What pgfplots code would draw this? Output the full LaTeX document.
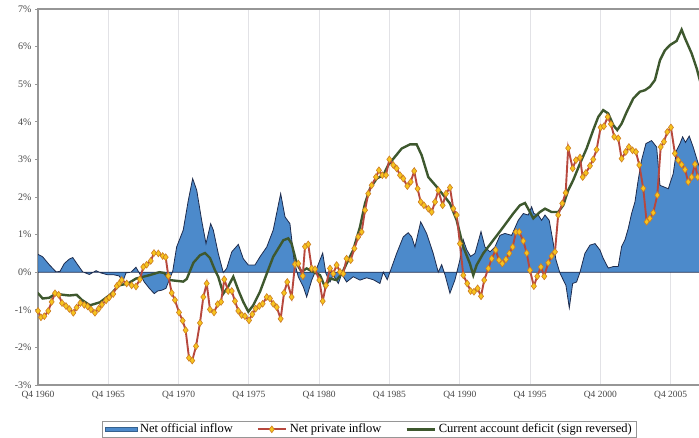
\documentclass[border=0pt]{standalone}
\usepackage{fontspec}
\setmainfont{Liberation Serif}
\usepackage{pgfplots}
\pgfplotsset{compat=1.18}

\definecolor{official}{RGB}{76,138,203}
\definecolor{officialedge}{RGB}{30,44,78}
\definecolor{cadgreen}{RGB}{62,88,46}
\definecolor{privred}{RGB}{183,72,62}
\definecolor{markyellow}{RGB}{246,196,30}
\definecolor{markedge}{RGB}{205,125,35}
\definecolor{gridgray}{RGB}{226,226,230}
\definecolor{axisgray}{RGB}{150,150,150}
\definecolor{labelgray}{RGB}{70,70,70}

\begin{document}
\begin{tikzpicture}
\begin{axis}[
  at={(38pt,-385pt)}, anchor=south west,
  scale only axis,
  width=665pt, height=376pt,
  xmin=1960.75, xmax=2008.05,
  ymin=-3, ymax=7,
  axis line style={draw=axisgray, line width=1.1pt},
  xtick={1960.75,1965.75,1970.75,1975.75,1980.75,1985.75,1990.75,1995.75,2000.75,2005.75},
  xticklabels={Q4 1960,Q4 1965,Q4 1970,Q4 1975,Q4 1980,Q4 1985,Q4 1990,Q4 1995,Q4 2000,Q4 2005},
  ytick={-3,-2,-1,0,1,2,3,4,5,6,7},
  yticklabels={-3\%,-2\%,-1\%,0\%,1\%,2\%,3\%,4\%,5\%,6\%,7\%},
  xmajorgrids,
  grid style={draw=gridgray, line width=0.8pt},
  xtick style={draw=none},
  ytick style={draw=axisgray, line width=0.6pt},
  tick align=outside, major tick length=3pt,
  xticklabel style={font=\fontsize{9.5}{11}\selectfont, text=labelgray},
  yticklabel style={font=\fontsize{10}{11}\selectfont, text=labelgray},
  legend columns=3,
  legend style={at={(0.498,-0.097)}, anchor=north, draw=axisgray,
    font=\fontsize{12.5}{13.5}\selectfont, text=black,
    /tikz/every even column/.append style={column sep=22pt},
    /tikz/every odd column/.append style={column sep=1pt},
    inner xsep=2pt, inner ysep=0.5pt},
  legend image code/.code={%
    \draw[mark repeat=2,mark phase=2,#1] plot coordinates {(0pt,0pt) (14pt,0pt) (28pt,0pt)};},
]

\addplot[fill=official, draw=officialedge, line width=0.8pt,
  legend image code/.code={\draw[fill=official, draw=official!70!black, line width=0.5pt] (0pt,-2pt) rectangle (32pt,2pt);}]
coordinates {
(1960.73,0.48)(1961.08,0.41)(1961.55,0.2)(1962.03,0.01)(1962.31,0.02)(1962.62,0.23)
(1962.98,0.35)(1963.22,0.39)(1963.57,0.2)(1963.93,0.01)(1964.4,-0.06)(1964.88,0.04)
(1965.23,-0.02)(1965.71,-0.07)(1966.16,-0.07)(1966.53,-0.1)(1966.77,-0.26)(1967.01,-0.02)
(1967.36,0.0)(1967.72,0.13)(1967.95,-0.02)(1968.31,-0.26)(1968.67,-0.43)(1969.02,-0.57)
(1969.26,-0.5)(1969.55,-0.48)(1969.85,-0.43)(1970.09,-0.2)(1970.33,0.02)(1970.61,0.67)
(1971.08,1.12)(1971.44,1.91)(1971.75,2.49)(1972.04,2.18)(1972.39,1.38)(1972.7,0.76)
(1973.03,1.29)(1973.22,1.12)(1973.57,0.5)(1973.93,-0.01)(1974.17,0.1)(1974.53,0.54)
(1975.0,0.74)(1975.35,0.36)(1975.71,0.19)(1976.18,0.19)(1976.54,0.41)(1977.02,0.67)
(1977.48,1.12)(1978.01,2.09)(1978.32,1.47)(1978.67,1.29)(1978.96,0.32)(1979.26,-0.12)
(1979.62,-0.39)(1979.86,-0.66)(1980.22,-0.21)(1980.57,0.1)(1981.0,0.51)(1981.23,-0.04)
(1981.52,-0.26)(1981.75,-0.07)(1982.11,-0.3)(1982.35,-0.05)(1982.7,-0.26)(1983.17,-0.12)
(1983.65,-0.21)(1984.13,-0.15)(1984.6,-0.2)(1985.07,-0.3)(1985.31,0.0)(1985.59,-0.2)
(1985.78,0.0)(1986.26,0.5)(1986.73,0.94)(1987.08,1.05)(1987.33,0.94)(1987.56,0.67)
(1987.97,1.34)(1988.39,1.03)(1988.86,0.5)(1989.22,0.0)(1989.46,0.2)(1989.7,-0.07)
(1990.05,-0.56)(1990.41,-0.2)(1990.76,0.33)(1991.0,0.86)(1991.24,0.6)(1991.52,0.42)
(1991.83,0.5)(1992.26,1.08)(1992.54,0.67)(1992.9,0.54)(1993.25,0.67)(1993.61,0.98)
(1993.96,1.03)(1994.44,0.98)(1994.91,1.38)(1995.27,1.56)(1995.62,1.52)(1995.86,1.74)
(1996.02,1.56)(1996.33,1.52)(1996.57,1.38)(1996.81,1.52)(1997.11,1.38)(1997.36,0.86)
(1997.59,0.33)(1997.88,-0.03)(1998.3,-0.35)(1998.54,-0.95)(1998.78,-0.3)(1999.06,-0.26)
(1999.3,0.0)(1999.65,0.5)(2000.01,0.72)(2000.37,0.76)(2000.72,0.59)(2000.95,0.37)
(2001.31,0.11)(2001.67,0.15)(2002.02,0.15)(2002.26,0.68)(2002.5,0.86)(2002.73,1.16)
(2002.97,1.56)(2003.21,1.87)(2003.44,2.45)(2003.68,2.98)(2003.99,3.42)(2004.39,3.5)
(2004.75,3.33)(2004.99,2.31)(2005.58,2.22)(2005.93,2.62)(2006.17,3.24)(2006.41,3.42)
(2006.6,3.6)(2006.8,3.45)(2007.07,3.62)(2007.35,3.33)(2007.71,2.89)(2008.0,2.6)
} \closedcycle;
\addlegendentry{Net official inflow}

\addplot[forget plot, draw=cadgreen, line width=2.4pt] coordinates {
(1960.73,-0.55)(1961.08,-0.7)(1961.55,-0.68)(1962.03,-0.57)(1962.51,-0.6)(1962.98,-0.62)
(1963.5,-0.6)(1963.88,-0.74)(1964.45,-0.88)(1965.16,-0.8)(1965.87,-0.6)(1966.53,-0.35)
(1967.15,-0.3)(1967.72,-0.17)(1968.67,-0.08)(1969.38,0.0)(1969.73,-0.02)(1970.14,-0.21)
(1971.08,-0.25)(1971.33,-0.18)(1971.8,0.25)(1972.27,0.45)(1972.63,0.51)(1972.98,0.38)
(1973.34,0.05)(1973.57,-0.12)(1973.93,-0.57)(1974.28,-0.38)(1974.64,-0.12)(1975.0,-0.48)
(1975.35,-0.79)(1975.71,-1.05)(1976.06,-0.88)(1976.54,-0.52)(1977.02,-0.04)(1977.48,0.41)
(1977.84,0.63)(1978.2,0.85)(1978.55,0.9)(1978.79,0.76)(1979.15,0.23)(1979.5,0.01)
(1979.86,0.1)(1980.1,0.05)(1980.81,-0.08)(1981.16,-0.39)(1981.52,-0.17)(1981.99,-0.21)
(1982.35,-0.04)(1982.7,0.23)(1983.17,0.59)(1983.65,1.2)(1984.01,1.83)(1984.36,2.22)
(1984.84,2.49)(1985.31,2.58)(1985.66,2.85)(1986.14,3.07)(1986.62,3.29)(1987.21,3.4)
(1987.68,3.4)(1988.04,3.11)(1988.51,2.53)(1989.11,2.27)(1989.58,2.05)(1990.05,1.83)
(1990.53,1.38)(1991.0,0.67)(1991.47,0.23)(1991.71,-0.08)(1991.95,0.19)(1992.42,0.5)
(1993.13,0.85)(1993.84,1.2)(1994.55,1.56)(1995.03,1.78)(1995.39,1.84)(1995.74,1.6)
(1995.98,1.43)(1996.45,1.6)(1996.81,1.69)(1997.28,1.6)(1997.75,1.6)(1998.11,1.78)
(1998.46,2.18)(1998.82,2.45)(1999.3,2.89)(1999.77,3.29)(2000.24,3.78)(2000.6,4.13)
(2000.95,4.31)(2001.31,4.22)(2001.67,3.91)(2001.95,3.78)(2002.26,3.95)(2002.62,4.26)
(2003.09,4.62)(2003.56,4.8)(2003.92,4.84)(2004.27,4.93)(2004.63,5.11)(2004.99,5.64)
(2005.34,5.9)(2005.7,6.04)(2006.17,6.15)(2006.53,6.45)(2006.77,6.22)(2007.24,5.82)
(2007.6,5.42)(2007.9,5.0)
};

\addplot[draw=privred, line width=1.9pt, mark=diamond*, mark size=3.4pt,
  mark options={fill=markyellow, draw=markedge, line width=0.6pt}] coordinates {
(1960.75,-1.03)(1960.96,-1.2)(1961.2,-1.17)(1961.48,-1.03)(1961.72,-0.79)(1961.96,-0.56)
(1962.22,-0.6)(1962.46,-0.82)(1962.74,-0.9)(1962.98,-0.98)(1963.26,-1.08)(1963.5,-0.94)
(1963.76,-0.82)(1964.04,-0.87)(1964.28,-0.91)(1964.52,-0.99)(1964.8,-1.08)(1965.07,-0.97)
(1965.3,-0.86)(1965.59,-0.75)(1965.82,-0.67)(1966.1,-0.58)(1966.35,-0.37)(1966.53,-0.3)
(1966.7,-0.21)(1967.06,-0.3)(1967.41,-0.35)(1967.72,-0.38)(1968.0,-0.19)(1968.24,0.14)
(1968.48,0.2)(1968.77,0.3)(1969.0,0.51)(1969.31,0.5)(1969.62,0.43)(1969.83,0.4)
(1970.02,-0.1)(1970.26,-0.55)(1970.49,-0.74)(1970.78,-1.07)(1971.04,-1.29)(1971.25,-1.54)
(1971.49,-2.28)(1971.72,-2.35)(1971.99,-1.97)(1972.27,-1.35)(1972.51,-0.66)(1972.75,-0.3)
(1972.98,-0.99)(1973.27,-1.07)(1973.53,-0.85)(1973.77,-0.79)(1974.0,-0.19)(1974.28,-0.5)
(1974.53,-0.5)(1974.76,-0.77)(1975.0,-1.03)(1975.24,-1.14)(1975.47,-1.17)(1975.76,-1.28)
(1975.99,-1.12)(1976.23,-0.97)(1976.49,-0.9)(1976.73,-0.84)(1977.02,-0.66)(1977.25,-0.7)
(1977.48,-0.84)(1977.73,-0.93)(1978.01,-1.24)(1978.25,-0.55)(1978.48,-0.26)(1978.79,-0.66)
(1979.03,0.21)(1979.26,0.23)(1979.58,-0.1)(1979.74,0.68)(1979.97,0.74)(1980.22,0.1)
(1980.45,0.08)(1980.76,-0.21)(1981.0,-0.77)(1981.23,-0.35)(1981.52,0.1)(1981.75,-0.04)
(1981.99,0.19)(1982.23,0.01)(1982.46,-0.04)(1982.7,0.36)(1982.99,0.32)(1983.25,0.63)
(1983.53,0.94)(1983.77,1.07)(1984.01,1.65)(1984.24,2.09)(1984.48,2.31)(1984.79,2.53)
(1985.0,2.71)(1985.24,2.58)(1985.5,2.58)(1985.74,3.0)(1986.02,2.85)(1986.26,2.76)
(1986.5,2.58)(1986.73,2.49)(1987.02,2.29)(1987.26,2.4)(1987.51,2.69)(1987.75,2.22)
(1987.97,1.87)(1988.2,1.78)(1988.51,1.69)(1988.75,1.6)(1988.99,1.87)(1989.22,2.18)
(1989.53,1.78)(1989.77,2.09)(1990.05,2.25)(1990.29,1.69)(1990.53,1.52)(1990.76,0.76)
(1991.0,-0.08)(1991.28,-0.3)(1991.52,-0.5)(1991.76,-0.52)(1992.02,-0.43)(1992.26,-0.64)
(1992.49,-0.21)(1992.78,0.1)(1993.02,0.36)(1993.3,0.59)(1993.54,0.32)(1993.77,0.23)
(1994.03,0.34)(1994.27,0.5)(1994.51,0.67)(1994.75,1.07)(1994.98,1.07)(1995.27,0.83)
(1995.51,0.51)(1995.74,0.05)(1996.02,-0.37)(1996.26,-0.11)(1996.52,0.14)(1996.76,-0.11)
(1997.04,0.25)(1997.28,0.43)(1997.52,0.54)(1997.75,1.52)(1998.04,1.83)(1998.28,2.11)
(1998.46,3.3)(1998.78,2.76)(1999.01,2.98)(1999.3,3.05)(1999.49,2.53)(1999.72,2.64)
(2000.01,2.83)(2000.24,3.0)(2000.48,3.26)(2000.77,3.85)(2001.0,3.88)(2001.27,4.13)
(2001.5,3.94)(2001.74,3.6)(2002.02,3.56)(2002.26,3.02)(2002.55,3.2)(2002.78,3.33)
(2003.04,3.24)(2003.28,3.2)(2003.52,2.85)(2003.8,2.23)(2004.04,1.34)(2004.27,1.43)
(2004.51,1.58)(2004.8,2.05)(2005.04,3.33)(2005.27,3.47)(2005.51,3.73)(2005.77,3.85)
(2006.05,3.16)(2006.29,2.98)(2006.53,2.86)(2006.77,2.73)(2007.0,2.4)(2007.24,2.53)
(2007.48,2.87)(2007.67,2.53)(2007.92,2.7)
};
\addlegendentry{Net private inflow}

\addlegendimage{draw=cadgreen, line width=2.4pt}
\addlegendentry{Current account deficit (sign reversed)}

\end{axis}
\pgfresetboundingbox
\path (0pt,0pt) rectangle (699pt,-438pt);
\end{tikzpicture}
\end{document}
